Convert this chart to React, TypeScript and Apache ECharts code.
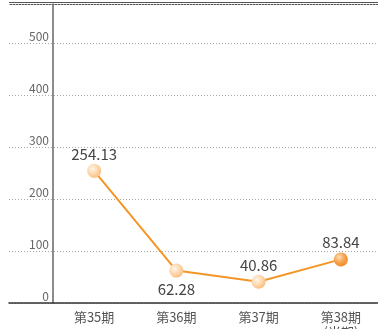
import React, { useEffect, useRef } from "react";
import * as echarts from "echarts";

// Fiscal periods and ordinary profit figures
const categories = ["第35期", "第36期", "第37期", "第38期\n(当期)"];
const values = [254.13, 62.28, 40.86, 83.84];
const labelSides = ["top", "bottom", "top", "top"];
const yMin = 0;
const yMax = 575;
const yInterval = 100;

const FONT = "'Noto Sans CJK JP', 'Noto Sans', sans-serif";

const paleBall = () =>
  new echarts.graphic.RadialGradient(0.38, 0.36, 0.72, [
    { offset: 0, color: "#fff4e8" },
    { offset: 0.55, color: "#fdd6ab" },
    { offset: 1, color: "#f8b978" },
  ]);

const currentBall = () =>
  new echarts.graphic.RadialGradient(0.38, 0.34, 0.72, [
    { offset: 0, color: "#fde0bd" },
    { offset: 0.5, color: "#f7a650" },
    { offset: 1, color: "#ee8a25" },
  ]);

export default function App() {
  const ref = useRef<HTMLDivElement>(null);

  useEffect(() => {
    if (!ref.current) return;
    const chart = echarts.init(ref.current, undefined, { renderer: "svg" });

    const seriesData = values.map((v, i) => ({
      value: v,
      itemStyle: { color: i === values.length - 1 ? currentBall() : paleBall() },
      label: { position: labelSides[i] },
    }));

    chart.setOption({
      animation: false,
      textStyle: { fontFamily: FONT },
      grid: [
        { left: 9, right: 0, top: 4, bottom: 26, outerBoundsMode: "none", containLabel: false },
        { left: 53, right: -4, top: 4, bottom: 26, outerBoundsMode: "none", containLabel: false },
      ],
      xAxis: [
        {
          gridIndex: 0,
          type: "category",
          data: categories,
          axisLine: { show: true, lineStyle: { color: "#333", width: 1.5 } },
          axisTick: { show: false },
          axisLabel: { show: false },
        },
        {
          gridIndex: 1,
          type: "category",
          data: categories,
          boundaryGap: true,
          axisLine: { show: false },
          axisTick: { show: false },
          axisLabel: {
            color: "#555",
            fontSize: 13,
            fontFamily: FONT,
            margin: 6,
            lineHeight: 15,
            interval: 0,
          },
        },
      ],
      yAxis: [
        {
          gridIndex: 0,
          type: "value",
          min: yMin,
          max: yMax,
          interval: yInterval,
          axisLine: { show: false },
          axisTick: { show: false },
          axisLabel: { show: false },
          splitLine: {
            show: true,
            lineStyle: { color: "#aaa", type: [1, 2], width: 1 },
          },
        },
        {
          gridIndex: 1,
          type: "value",
          min: yMin,
          max: yMax,
          interval: yInterval,
          axisLine: { show: true, lineStyle: { color: "#666", width: 1.5 } },
          axisTick: { show: false },
          splitLine: { show: false },
          axisLabel: {
            color: "#666",
            fontSize: 12,
            fontFamily: FONT,
            margin: 4,
            verticalAlign: "bottom",
            showMaxLabel: false,
            padding: [0, 0, 2, 0],
          },
        },
      ],
      graphic: [
        {
          type: "line",
          shape: { x1: 9, y1: 2.5, x2: 378, y2: 2.5 },
          style: { stroke: "#555", lineWidth: 1 },
        },
        {
          type: "line",
          shape: { x1: 9, y1: 4.5, x2: 378, y2: 4.5 },
          style: { stroke: "#555", lineWidth: 1 },
        },
      ],
      series: [
        {
          type: "line",
          xAxisIndex: 1,
          yAxisIndex: 1,
          data: seriesData,
          symbol: "circle",
          symbolSize: 14,
          lineStyle: { color: "#f39626", width: 2 },
          label: {
            show: true,
            color: "#444",
            fontSize: 15,
            fontFamily: FONT,
            distance: 3,
            formatter: (p: any) => p.value.toFixed(2),
          },
        },
      ],
    });

    return () => chart.dispose();
  }, []);

  return (
    <div
      ref={ref}
      style={{ position: "fixed", left: 0, top: 0, width: 378, height: 329 }}
    />
  );
}
